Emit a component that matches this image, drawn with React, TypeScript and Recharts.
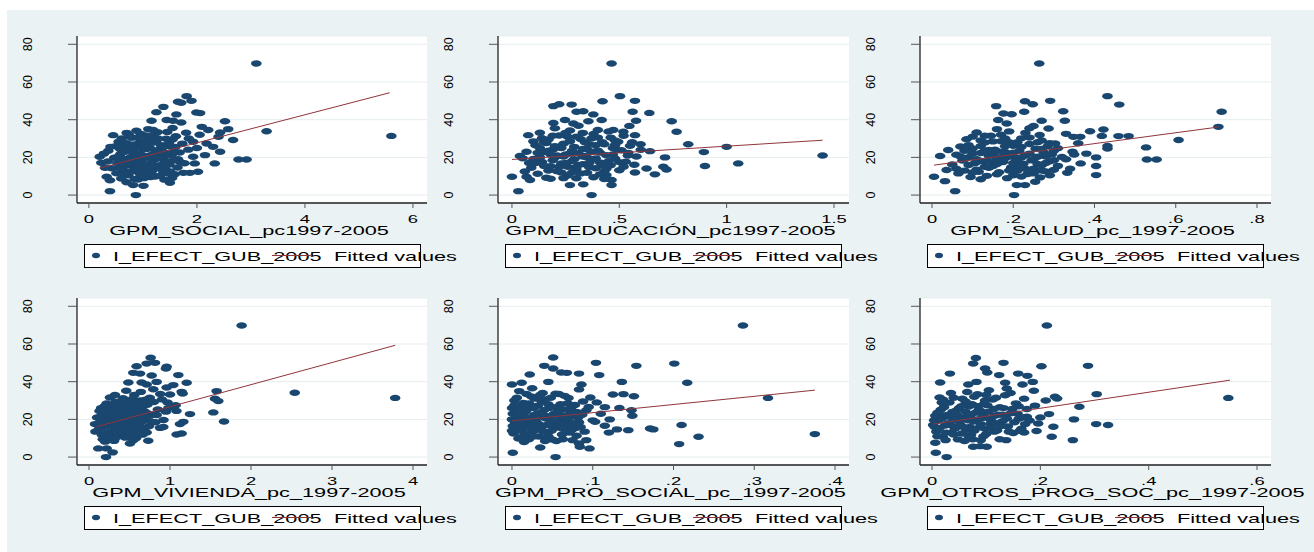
import { CartesianGrid, Scatter, ScatterChart, XAxis, YAxis } from "recharts";

const FONT = "'Liberation Sans', Arial, sans-serif";
const NAVY = "#1a476f";
const MAROON = "#90353b";
const BG = "#eaf2f3";
const SX = 1.67;

type Pt = [number, number];

const Y_TICKS = [0, 20, 40, 60, 80];
const Y_DOMAIN: [number, number] = [-4.2, 84.4];
const SERIES_NAME = "I_EFECT_GUB_2005";
const FIT_NAME = "Fitted values";

const SOCIAL: Pt[] = [
  [3.1, 69.8], [5.6, 31.4], [3.29, 33.9], [1.81, 52.5], [1.9, 50.0], [1.71, 49.0], [1.65, 49.5], [1.99, 43.8], [2.06, 43.5],
  [1.38, 46.8], [1.25, 44.0], [1.62, 42.8], [1.16, 39.4], [1.44, 39.8], [1.56, 39.4], [1.71, 38.5], [2.09, 36.2], [2.21, 34.5],
  [2.52, 39.2], [2.58, 35.0], [2.43, 33.2], [2.4, 30.9], [2.67, 29.2], [2.77, 18.9], [2.92, 18.9], [2.15, 21.2], [2.33, 16.8],
  [1.93, 20.3], [1.96, 16.8], [2.02, 12.4], [1.87, 11.8], [2.43, 23.0], [2.3, 25.6], [2.18, 27.4], [1.93, 28.3], [0.2, 20.3],
  [0.23, 17.1], [0.36, 23.5], [0.33, 9.7], [0.39, 7.9], [0.39, 2.1], [0.87, 0.0], [0.82, 5.3], [1.01, 4.9], [1.5, 6.5],
  [1.59, 11.1], [0.7, 33.0], [0.88, 34.1], [0.57, 24.7],
  [0.42, 14.2], [0.47, 19.8], [0.51, 11.6], [0.53, 16.9], [0.58, 21.7], [0.6, 8.8], [0.63, 13.4], [0.66, 27.1], [0.68, 18.2],
  [0.71, 23.9], [0.73, 10.5], [0.76, 15.7], [0.79, 30.4], [0.81, 20.6], [0.84, 12.8], [0.86, 25.3], [0.89, 17.4], [0.91, 8.3],
  [0.93, 22.1], [0.96, 28.6], [0.98, 14.9], [1.0, 19.1], [1.03, 31.7], [1.04, 11.2], [1.07, 24.4], [1.09, 16.3], [1.11, 20.9],
  [1.14, 9.6], [1.17, 27.8], [1.19, 13.5], [1.21, 18.7], [1.24, 23.2], [1.27, 33.4], [1.29, 15.1], [1.32, 10.2], [1.34, 26.5],
  [1.37, 19.6], [1.41, 13.9], [1.43, 29.9], [1.46, 21.8], [1.49, 16.2], [1.52, 25.7], [1.54, 9.1], [1.57, 18.4], [1.61, 31.2],
  [1.64, 14.6], [1.68, 22.6], [1.73, 27.3], [1.77, 16.9], [1.8, 33.1], [1.84, 24.1], [1.0, 13.0], [0.9, 27.0], [1.2, 31.0],
  [0.75, 25.5], [0.95, 11.0], [1.15, 17.2], [1.35, 23.5], [1.5, 12.6], [0.65, 16.0], [0.55, 28.3], [0.85, 8.5], [1.25, 28.0],
  [1.45, 33.5], [1.65, 19.0], [1.1, 35.0], [0.8, 17.0], [1.3, 21.0], [0.6, 24.0], [1.05, 27.0], [0.45, 31.8], [0.5, 26.0],
  [0.7, 6.8], [1.55, 35.6], [1.4, 8.2], [1.75, 11.8], [1.85, 30.0], [2.0, 25.0], [2.05, 32.0], [0.35, 17.8], [0.3, 14.5],
  [0.28, 22.0], [0.4, 25.6],
  [0.62, 19.5], [0.67, 23.0], [0.72, 16.5], [0.77, 20.0], [0.83, 22.8], [0.87, 19.0], [0.92, 15.5], [0.97, 21.5], [1.01, 24.5],
  [1.06, 20.0], [1.1, 13.8], [1.13, 25.0], [1.18, 21.5], [1.22, 15.8], [1.26, 19.5], [1.31, 24.5], [1.36, 16.5], [1.4, 26.0],
  [1.44, 18.0], [1.48, 27.5], [1.53, 21.0], [1.58, 23.0], [0.7, 27.5], [0.78, 12.5], [0.88, 30.5], [0.94, 18.0], [1.02, 9.0],
  [1.12, 31.5], [1.28, 30.0], [1.38, 12.0], [0.58, 14.5], [0.52, 20.0], [0.66, 11.0], [0.83, 26.8], [0.99, 25.5], [1.08, 29.5],
  [1.16, 11.5], [1.23, 9.8], [1.33, 14.0], [1.42, 22.5], [1.6, 25.5], [1.69, 17.5], [0.74, 32.0], [0.96, 32.5], [1.19, 34.5],
  [0.61, 30.0], [0.86, 14.0], [1.47, 11.5], [1.55, 29.5], [1.04, 15.5],
];

const EDUCACION: Pt[] = [
  [0.464, 69.8], [0.503, 52.5], [0.573, 50.0], [0.422, 49.8], [0.193, 47.2], [0.22, 48.2], [0.278, 48.0], [0.332, 44.5],
  [0.301, 44.2], [0.562, 44.2], [0.64, 43.6], [0.379, 42.8], [0.247, 39.8], [0.193, 38.3], [0.286, 38.0], [0.356, 39.2],
  [0.418, 39.8], [0.578, 39.4], [0.547, 36.7], [0.744, 39.2], [0.767, 33.6], [0.472, 34.5], [0.519, 33.6], [0.573, 31.8],
  [0.821, 27.0], [1.0, 25.6], [0.894, 22.8], [0.899, 15.4], [1.054, 16.8], [1.447, 21.0], [0.713, 20.0], [0.705, 15.0],
  [0.72, 13.6], [0.666, 11.0], [0.627, 14.1], [0.573, 12.0], [0.599, 27.0], [0.643, 23.3], [0.371, 0.0], [0.464, 5.3],
  [0.464, 8.0], [0.332, 5.7], [0.27, 5.3], [0.03, 2.1], [0.0, 9.7], [0.037, 20.7], [0.068, 23.0], [0.076, 31.8], [0.084, 8.0],
  [0.068, 9.7], [0.542, 22.4], [0.495, 28.3],
  [0.09, 14.5], [0.1, 19.2], [0.11, 26.4], [0.12, 11.3], [0.13, 33.1], [0.14, 17.6], [0.15, 22.8], [0.16, 9.2], [0.17, 29.5],
  [0.18, 15.3], [0.19, 24.1], [0.2, 19.9], [0.21, 12.7], [0.22, 31.6], [0.23, 16.8], [0.24, 27.2], [0.25, 21.5], [0.26, 10.4],
  [0.27, 34.3], [0.28, 18.1], [0.29, 25.6], [0.3, 13.9], [0.31, 22.2], [0.32, 29.8], [0.33, 16.4], [0.34, 20.7], [0.35, 11.8],
  [0.36, 26.9], [0.37, 18.8], [0.38, 32.4], [0.39, 14.2], [0.4, 23.6], [0.41, 17.3], [0.42, 28.1], [0.43, 12.5], [0.44, 21.1],
  [0.45, 33.7], [0.46, 15.9], [0.47, 25.0], [0.48, 19.4], [0.5, 13.2], [0.51, 23.8], [0.53, 17.7], [0.55, 26.2], [0.57, 16.1],
  [0.14, 30.2], [0.18, 8.7], [0.21, 25.3], [0.26, 15.0], [0.3, 8.9], [0.33, 33.0], [0.36, 14.8], [0.4, 30.5], [0.44, 10.6],
  [0.2, 35.4], [0.28, 12.0], [0.24, 20.5], [0.35, 24.3], [0.42, 16.0], [0.12, 22.4], [0.16, 27.6], [0.08, 17.0], [0.06, 12.5],
  [0.05, 19.5], [0.1, 28.5], [0.31, 36.8], [0.26, 31.0], [0.38, 9.5], [0.48, 29.0], [0.52, 31.5], [0.58, 20.5], [0.6, 24.0],
  [0.13, 20.0], [0.15, 15.5], [0.17, 23.5], [0.19, 18.5], [0.21, 21.0], [0.23, 25.0], [0.25, 17.0], [0.27, 22.0], [0.29, 19.0],
  [0.31, 16.0], [0.33, 24.5], [0.35, 20.0], [0.37, 23.0], [0.39, 19.5], [0.41, 22.5], [0.43, 27.0], [0.45, 18.0], [0.47, 21.5],
  [0.49, 24.0], [0.15, 28.0], [0.19, 31.5], [0.23, 12.0], [0.27, 28.5], [0.32, 11.5], [0.37, 30.0], [0.41, 11.0], [0.46, 30.5],
  [0.5, 17.5], [0.54, 21.0], [0.17, 13.0], [0.11, 17.0], [0.13, 25.0], [0.22, 15.0], [0.29, 14.5], [0.34, 28.0], [0.39, 26.5],
  [0.44, 14.0], [0.48, 26.5], [0.52, 15.0], [0.56, 28.0], [0.18, 21.5], [0.25, 33.0], [0.3, 31.0], [0.4, 34.5], [0.28, 23.5],
  [0.36, 17.0], [0.33, 20.5], [0.24, 9.0], [0.43, 8.5], [0.2, 26.0],
];

const SALUD: Pt[] = [
  [0.264, 69.8], [0.432, 52.5], [0.461, 48.0], [0.291, 50.0], [0.229, 49.8], [0.248, 48.2], [0.158, 47.2], [0.227, 44.2],
  [0.323, 44.5], [0.176, 43.3], [0.196, 42.9], [0.163, 39.8], [0.184, 38.0], [0.27, 39.4], [0.327, 39.4], [0.25, 36.7],
  [0.287, 35.3], [0.389, 33.9], [0.422, 34.8], [0.418, 31.4], [0.348, 30.9], [0.365, 30.9], [0.459, 31.3], [0.484, 31.3],
  [0.713, 44.2], [0.705, 36.2], [0.607, 29.2], [0.527, 25.3], [0.529, 18.9], [0.553, 18.9], [0.432, 26.1], [0.432, 24.7],
  [0.404, 20.0], [0.404, 15.4], [0.404, 10.6], [0.366, 16.8], [0.333, 11.8], [0.346, 23.0], [0.303, 27.4], [0.202, 0.0],
  [0.057, 2.1], [0.005, 9.7], [0.02, 20.7], [0.036, 13.3], [0.032, 7.4], [0.04, 23.9], [0.209, 5.3], [0.229, 5.3],
  [0.254, 7.1], [0.266, 9.4],
  [0.05, 16.2], [0.06, 21.4], [0.065, 11.5], [0.07, 25.8], [0.075, 18.3], [0.08, 13.0], [0.085, 29.6], [0.09, 20.1],
  [0.095, 9.6], [0.1, 24.7], [0.105, 16.9], [0.11, 33.2], [0.115, 12.4], [0.12, 22.3], [0.125, 18.0], [0.13, 27.9],
  [0.135, 10.2], [0.14, 20.8], [0.145, 31.5], [0.15, 15.4], [0.155, 24.1], [0.16, 19.2], [0.165, 12.1], [0.17, 28.6],
  [0.175, 17.5], [0.18, 22.9], [0.185, 9.0], [0.19, 33.8], [0.195, 14.7], [0.2, 26.2], [0.205, 19.8], [0.21, 12.9],
  [0.215, 23.4], [0.22, 30.1], [0.225, 16.6], [0.23, 21.0], [0.235, 11.2], [0.24, 27.1], [0.245, 18.4], [0.25, 14.0],
  [0.255, 24.6], [0.26, 20.3], [0.265, 31.9], [0.27, 15.8], [0.275, 22.7], [0.28, 12.6], [0.285, 26.0], [0.29, 17.9],
  [0.295, 21.6], [0.3, 13.4], [0.31, 24.9], [0.32, 20.2], [0.12, 8.4], [0.16, 35.0], [0.1, 31.0], [0.14, 14.5], [0.18, 25.9],
  [0.22, 9.8], [0.24, 35.5], [0.08, 19.0], [0.2, 17.0], [0.27, 29.0], [0.13, 23.5], [0.19, 28.0], [0.06, 14.0], [0.11, 17.5],
  [0.29, 10.5], [0.34, 14.0], [0.38, 22.0], [0.36, 27.5], [0.33, 32.5],
  [0.07, 20.5], [0.09, 16.0], [0.1, 22.0], [0.11, 19.0], [0.12, 26.0], [0.13, 15.0], [0.14, 24.0], [0.15, 21.5], [0.16, 16.5],
  [0.17, 23.0], [0.18, 19.5], [0.19, 13.0], [0.2, 22.5], [0.21, 18.5], [0.22, 25.5], [0.23, 14.0], [0.24, 22.0], [0.25, 19.0],
  [0.26, 16.5], [0.27, 24.5], [0.28, 20.5], [0.29, 27.5], [0.3, 18.5], [0.31, 15.5], [0.13, 31.5], [0.15, 28.5], [0.17, 32.0],
  [0.21, 28.0], [0.23, 33.0], [0.09, 26.5], [0.11, 13.5], [0.16, 11.0], [0.2, 10.5], [0.25, 11.5], [0.28, 17.0], [0.19, 20.5],
  [0.14, 18.0], [0.18, 30.0], [0.26, 28.0], [0.08, 23.5], [0.12, 29.0], [0.22, 20.0], [0.24, 30.5], [0.3, 23.5], [0.1, 12.0],
  [0.17, 20.0], [0.21, 15.5], [0.27, 13.0], [0.33, 19.0], [0.35, 21.5],
];

const VIVIENDA: Pt[] = [
  [1.885, 69.8], [2.54, 34.1], [3.78, 31.4], [1.576, 35.0], [1.556, 31.0], [1.597, 29.7], [1.535, 23.7], [1.667, 18.9],
  [1.206, 39.4], [1.103, 43.5], [1.144, 34.6], [1.156, 33.7], [1.247, 22.8], [1.165, 18.7], [1.123, 17.5], [1.082, 12.0],
  [1.144, 12.5], [0.959, 47.9], [0.95, 47.0], [0.761, 52.7], [0.815, 50.0], [0.712, 49.6], [0.588, 48.2], [0.547, 44.7],
  [0.63, 44.3], [0.774, 43.3], [0.486, 39.6], [0.65, 39.6], [0.712, 38.5], [0.835, 39.9], [1.041, 38.2], [0.959, 36.9],
  [0.794, 36.0], [1.0, 33.2], [0.835, 22.3], [0.877, 15.5], [0.918, 16.0], [0.712, 13.0], [0.732, 8.7], [0.506, 7.2],
  [0.547, 9.0], [0.218, 4.6], [0.115, 4.6], [0.21, 0.0], [0.292, 2.5], [0.074, 17.5], [0.136, 21.4], [0.218, 28.4],
  [0.259, 31.6], [0.321, 32.9], [1.05, 27.0], [1.08, 24.5], [0.98, 26.0],
  [0.12, 14.8], [0.14, 18.9], [0.16, 11.7], [0.18, 23.1], [0.2, 16.2], [0.22, 20.4], [0.24, 9.8], [0.26, 26.3], [0.27, 13.6],
  [0.29, 18.1], [0.3, 22.7], [0.32, 11.0], [0.33, 29.4], [0.35, 15.5], [0.36, 20.9], [0.38, 25.0], [0.39, 13.1], [0.41, 17.8],
  [0.42, 31.2], [0.44, 21.6], [0.45, 10.3], [0.47, 24.2], [0.48, 16.5], [0.5, 28.1], [0.51, 19.3], [0.53, 12.4], [0.54, 22.8],
  [0.56, 33.0], [0.57, 17.0], [0.59, 26.7], [0.6, 14.3], [0.62, 21.2], [0.63, 30.0], [0.65, 18.6], [0.66, 11.9], [0.68, 24.5],
  [0.7, 20.0], [0.72, 27.8], [0.74, 16.4], [0.77, 22.4], [0.8, 29.2], [0.85, 25.3], [0.9, 30.6], [0.95, 24.1], [1.02, 26.8],
  [1.07, 27.5], [0.92, 19.7], [0.25, 17.0], [0.31, 8.6], [0.37, 14.6], [0.43, 27.0], [0.46, 35.2], [0.52, 15.0], [0.58, 10.0],
  [0.64, 34.6], [0.69, 13.8], [0.4, 23.0], [0.28, 20.5], [0.34, 26.0], [0.15, 26.0], [0.1, 21.0], [0.08, 13.5], [0.2, 8.2],
  [0.48, 12.0], [0.55, 30.0], [0.61, 24.0], [0.75, 31.5], [0.82, 18.5], [0.88, 33.5], [0.97, 29.0],
  [0.15, 20.0], [0.17, 16.0], [0.19, 19.5], [0.21, 24.0], [0.23, 17.5], [0.25, 22.0], [0.27, 19.0], [0.29, 24.5], [0.31, 16.5],
  [0.33, 21.0], [0.35, 18.5], [0.37, 23.0], [0.39, 19.5], [0.41, 26.0], [0.43, 16.5], [0.45, 22.0], [0.47, 19.5], [0.49, 25.0],
  [0.51, 14.5], [0.53, 27.5], [0.55, 20.5], [0.57, 24.0], [0.59, 18.5], [0.61, 28.5], [0.63, 16.0], [0.67, 21.5], [0.71, 23.5],
  [0.76, 19.0], [0.22, 13.0], [0.26, 11.5], [0.3, 14.0], [0.34, 10.5], [0.38, 29.0], [0.42, 12.5], [0.44, 30.0], [0.46, 14.0],
  [0.5, 11.0], [0.54, 31.0], [0.58, 29.5], [0.62, 12.0], [0.66, 27.0], [0.7, 30.5], [0.36, 27.5], [0.32, 25.5], [0.28, 27.0],
  [0.24, 23.0], [0.19, 27.0], [0.13, 24.5], [0.17, 9.5], [0.52, 23.5],
];

const PRO_SOCIAL: Pt[] = [
  [0.286, 69.8], [0.317, 31.4], [0.375, 12.2], [0.231, 10.8], [0.207, 6.9], [0.21, 17.0], [0.217, 39.4], [0.201, 49.6],
  [0.154, 48.4], [0.171, 15.2], [0.175, 14.7], [0.151, 32.3], [0.149, 21.9], [0.148, 24.9], [0.144, 14.3], [0.136, 39.9],
  [0.138, 33.4], [0.133, 26.1], [0.13, 14.7], [0.125, 33.2], [0.104, 50.0], [0.108, 43.5], [0.121, 20.0], [0.115, 16.6],
  [0.103, 18.7], [0.096, 4.6], [0.084, 5.5], [0.083, 44.3], [0.086, 38.5], [0.083, 35.9], [0.068, 44.7], [0.061, 44.9],
  [0.051, 47.0], [0.051, 52.8], [0.04, 48.4], [0.045, 39.9], [0.022, 43.8], [0.0, 38.5], [0.012, 39.4], [0.001, 2.3],
  [0.054, 0.0], [0.035, 5.1], [0.092, 24.9], [0.097, 31.6], [0.083, 7.2], [0.092, 9.0],
  [0.002, 12.5], [0.004, 18.2], [0.006, 24.6], [0.008, 9.8], [0.01, 21.3], [0.012, 15.1], [0.014, 28.7], [0.016, 19.4],
  [0.018, 11.6], [0.02, 25.5], [0.022, 17.0], [0.024, 32.2], [0.026, 13.7], [0.028, 22.4], [0.03, 19.0], [0.032, 27.3],
  [0.034, 10.9], [0.036, 23.8], [0.038, 16.3], [0.04, 30.6], [0.042, 20.5], [0.044, 13.2], [0.046, 26.1], [0.048, 18.6],
  [0.05, 9.3], [0.052, 23.0], [0.054, 33.6], [0.056, 15.7], [0.058, 21.8], [0.06, 28.0], [0.062, 12.0], [0.064, 19.9],
  [0.066, 25.2], [0.068, 16.8], [0.07, 31.4], [0.072, 22.9], [0.074, 14.4], [0.076, 18.0], [0.078, 27.6], [0.08, 11.3],
  [0.082, 21.0], [0.085, 16.0], [0.088, 29.5], [0.09, 13.5], [0.095, 26.6], [0.1, 19.5], [0.105, 29.0], [0.11, 23.0],
  [0.115, 26.5], [0.12, 13.0], [0.0, 20.0], [0.0, 26.0], [0.0, 14.0], [0.003, 30.0], [0.009, 35.0], [0.015, 8.0],
  [0.025, 36.5], [0.035, 33.0], [0.045, 11.0], [0.055, 8.5], [0.065, 32.5], [0.075, 9.0], [0.03, 14.5], [0.05, 16.5],
  [0.06, 22.5], [0.02, 21.0], [0.04, 25.0], [0.012, 27.0], [0.07, 19.0], [0.08, 24.0],
  [0.001, 16.5], [0.001, 23.0], [0.003, 27.5], [0.005, 20.5], [0.007, 14.5], [0.009, 25.0], [0.011, 18.0], [0.013, 22.0],
  [0.015, 13.0], [0.017, 24.0], [0.019, 16.0], [0.021, 28.5], [0.023, 20.0], [0.025, 15.5], [0.027, 26.0], [0.029, 11.0],
  [0.031, 23.0], [0.033, 17.5], [0.035, 21.5], [0.037, 29.5], [0.039, 13.5], [0.041, 22.0], [0.043, 17.0], [0.045, 28.0],
  [0.047, 21.0], [0.049, 14.0], [0.051, 26.5], [0.053, 19.0], [0.057, 24.5], [0.059, 17.5], [0.061, 25.5], [0.063, 15.0],
  [0.067, 21.0], [0.069, 28.5], [0.071, 13.0], [0.073, 26.0], [0.077, 21.5], [0.079, 15.5], [0.083, 18.5], [0.087, 22.5],
  [0.006, 31.5], [0.018, 33.5], [0.028, 31.0], [0.038, 34.0], [0.048, 31.5], [0.058, 33.5], [0.011, 10.5], [0.021, 9.5],
  [0.041, 8.5], [0.063, 9.5],
];

const OTROS: Pt[] = [
  [0.212, 69.8], [0.547, 31.4], [0.288, 48.4], [0.304, 33.4], [0.303, 17.5], [0.325, 17.0], [0.26, 9.0], [0.262, 20.0],
  [0.272, 26.7], [0.227, 32.0], [0.231, 31.1], [0.221, 10.8], [0.224, 16.1], [0.216, 22.8], [0.202, 48.2], [0.132, 50.0],
  [0.081, 52.6], [0.076, 49.6], [0.098, 47.0], [0.102, 44.9], [0.124, 43.5], [0.159, 44.3], [0.176, 43.1], [0.186, 39.9],
  [0.167, 38.5], [0.188, 35.2], [0.135, 39.4], [0.138, 36.4], [0.082, 39.9], [0.067, 38.5], [0.033, 44.3], [0.015, 39.6],
  [0.014, 31.6], [0.006, 21.9], [0.002, 17.0], [0.006, 7.6], [0.007, 2.3], [0.027, 0.0], [0.076, 5.5], [0.089, 5.8],
  [0.101, 5.5], [0.137, 9.0], [0.193, 13.8], [0.196, 17.8], [0.175, 21.4],
  [0.008, 13.5], [0.012, 19.4], [0.016, 25.1], [0.02, 10.8], [0.024, 16.7], [0.028, 22.3], [0.032, 28.9], [0.036, 13.0],
  [0.04, 19.8], [0.044, 24.6], [0.048, 9.4], [0.052, 17.2], [0.056, 31.0], [0.06, 21.1], [0.064, 14.5], [0.068, 26.8],
  [0.072, 11.7], [0.076, 18.9], [0.08, 23.5], [0.084, 33.3], [0.088, 15.8], [0.092, 20.6], [0.096, 28.2], [0.1, 12.3],
  [0.104, 24.0], [0.108, 17.6], [0.112, 30.5], [0.116, 21.9], [0.12, 14.1], [0.125, 26.4], [0.13, 19.0], [0.135, 32.8],
  [0.14, 16.2], [0.145, 23.2], [0.15, 12.8], [0.155, 28.5], [0.16, 20.3], [0.165, 15.0], [0.17, 31.0], [0.175, 25.5],
  [0.18, 19.4], [0.19, 27.3], [0.2, 21.0], [0.21, 30.0], [0.005, 16.0], [0.015, 22.5], [0.025, 9.0], [0.035, 34.0],
  [0.045, 20.8], [0.055, 12.5], [0.065, 34.5], [0.075, 9.5], [0.085, 27.0], [0.095, 11.0], [0.105, 35.5], [0.115, 13.5],
  [0.125, 9.5], [0.145, 34.0], [0.16, 27.0], [0.17, 13.0], [0.03, 18.0], [0.05, 26.0], [0.07, 16.0], [0.09, 24.5],
  [0.11, 19.0], [0.13, 22.5], [0.02, 30.5], [0.06, 8.5], [0.1, 33.0],
  [0.004, 19.5], [0.01, 23.5], [0.014, 15.5], [0.018, 20.5], [0.022, 26.5], [0.026, 13.0], [0.03, 21.5], [0.034, 17.0],
  [0.038, 24.0], [0.042, 15.0], [0.046, 22.5], [0.05, 19.0], [0.054, 27.0], [0.058, 16.0], [0.062, 24.0], [0.066, 19.5],
  [0.07, 22.0], [0.074, 28.0], [0.078, 14.0], [0.082, 20.0], [0.086, 25.0], [0.09, 17.5], [0.094, 22.0], [0.098, 15.0],
  [0.102, 27.5], [0.106, 20.5], [0.11, 15.5], [0.114, 25.5], [0.118, 18.0], [0.122, 22.5], [0.128, 16.5], [0.132, 26.0],
  [0.138, 20.5], [0.142, 13.5], [0.148, 25.5], [0.152, 18.5], [0.158, 23.0], [0.162, 14.0], [0.168, 21.0], [0.172, 17.5],
  [0.018, 29.0], [0.04, 31.5], [0.062, 29.5], [0.078, 32.0], [0.098, 30.0], [0.118, 31.5], [0.01, 11.0], [0.04, 12.0],
  [0.068, 11.0], [0.09, 9.0],
];

// fitted line end points
const FIT_SOCIAL: Pt[] = [[0.2, 14.3], [5.57, 54.3]];
const FIT_EDUCACION: Pt[] = [[0.0, 18.9], [1.447, 29.1]];
const FIT_SALUD: Pt[] = [[0.005, 15.9], [0.705, 36.1]];
const FIT_VIVIENDA: Pt[] = [[0.095, 16.1], [3.78, 59.3]];
const FIT_PRO_SOCIAL: Pt[] = [[0.0, 19.2], [0.375, 35.5]];
const FIT_OTROS: Pt[] = [[0.0025, 17.5], [0.55, 40.8]];

const PANELS = [
  { title: "GPM_SOCIAL_pc1997-2005", pts: SOCIAL, fit: FIT_SOCIAL, ticks: [0, 2, 4, 6], domain: [-0.22, 6.26], col: 0, row: 0 },
  { title: "GPM_EDUCACIÓN_pc1997-2005", pts: EDUCACION, fit: FIT_EDUCACION, ticks: [0, 0.5, 1, 1.5], domain: [-0.065, 1.57], col: 1, row: 0 },
  { title: "GPM_SALUD_pc_1997-2005", pts: SALUD, fit: FIT_SALUD, ticks: [0, 0.2, 0.4, 0.6, 0.8], domain: [-0.0295, 0.8345], col: 2, row: 0 },
  { title: "GPM_VIVIENDA_pc_1997-2005", pts: VIVIENDA, fit: FIT_VIVIENDA, ticks: [0, 1, 2, 3, 4], domain: [-0.148, 4.173], col: 0, row: 1 },
  { title: "GPM_PRO_SOCIAL_pc_1997-2005", pts: PRO_SOCIAL, fit: FIT_PRO_SOCIAL, ticks: [0, 0.1, 0.2, 0.3, 0.4], domain: [-0.0173, 0.4173], col: 1, row: 1 },
  { title: "GPM_OTROS_PROG_SOC_pc_1997-2005", pts: OTROS, fit: FIT_OTROS, ticks: [0, 0.2, 0.4, 0.6], domain: [-0.0222, 0.6258], col: 2, row: 1 },
];

// charts overlap a little so that the legend labels are not cut at a panel edge
const COLS = [
  { left: 7, width: 465, yw: 70, right: 45 },
  { left: 440, width: 451, yw: 58, right: 42 },
  { left: 862, width: 452, yw: 58, right: 43 },
];
const ROW_TOPS = [10, 272];
const CHART_H = 262;

const fmt = (v: number) => String(v).replace(/^0\./, ".");

function XTick(props: any) {
  const { x, y, payload } = props;
  return (
    <g transform={`translate(${x},${y + 12.5}) scale(${SX},1)`}>
      <text x={0} y={0} textAnchor="middle" fontSize={11} fontFamily={FONT} fill="#000">
        {fmt(payload.value)}
      </text>
    </g>
  );
}

function YTick(props: any) {
  const { x, y, payload } = props;
  const cx = x - 40;
  return (
    <text
      x={cx}
      y={y}
      transform={`rotate(-90 ${cx} ${y})`}
      textAnchor="middle"
      dominantBaseline="central"
      fontSize={12.5}
      fontFamily={FONT}
      fill="#000"
    >
      {payload.value}
    </text>
  );
}

function Dot(props: any) {
  return <ellipse cx={props.cx} cy={props.cy} rx={5.3} ry={3.2} fill={NAVY} />;
}

function Legend({ left }: { left: number }) {
  const top = 234;
  const cy = top + 11.5;
  return (
    <g>
      <rect x={left + 0.5} y={top + 0.5} width={336} height={23} fill="#fff" stroke="#000" strokeWidth={1} />
      <ellipse cx={left + 12} cy={cy} rx={4} ry={2.7} fill={NAVY} />
      <g transform={`translate(${left + 29},${top + 16.5}) scale(${SX},1)`}>
        <text x={0} y={0} fontSize={13} fontFamily={FONT} fill="#000">{SERIES_NAME}</text>
      </g>
      <line x1={left + 188} x2={left + 228} y1={cy} y2={cy} stroke={MAROON} strokeWidth={1} />
      <g transform={`translate(${left + 250},${top + 16.5}) scale(${SX},1)`}>
        <text x={0} y={0} fontSize={13} fontFamily={FONT} fill="#000">{FIT_NAME}</text>
      </g>
    </g>
  );
}

function Panel({ p }: { p: (typeof PANELS)[number] }) {
  const c = COLS[p.col];
  const pts = p.pts.map(([x, y]) => ({ x, y }));
  const fit = p.fit.map(([x, y]) => ({ x, y }));
  return (
    <div style={{ position: "absolute", left: c.left, top: ROW_TOPS[p.row], width: c.width, height: CHART_H }}>
      <ScatterChart width={c.width} height={CHART_H} margin={{ top: 26, right: c.right, bottom: 39, left: 0 }}>
        <CartesianGrid vertical={false} fill="#fff" stroke="#e4edef" strokeWidth={1} />
        <XAxis
          type="number"
          dataKey="x"
          domain={p.domain as [number, number]}
          ticks={p.ticks}
          allowDataOverflow
          height={30}
          tickSize={5}
          tickMargin={2}
          tick={<XTick />}
          axisLine={{ stroke: "#222", strokeWidth: 1.3 }}
          tickLine={{ stroke: "#555" }}
          label={{
            content: (lp: any) => {
              const vb = lp.viewBox || { x: 0, y: 0, width: 0 };
              return (
                <g transform={`translate(${vb.x + vb.width / 2 - 3},${vb.y + 31.5}) scale(${SX},1)`}>
                  <text x={0} y={0} textAnchor="middle" fontSize={13} fontFamily={FONT} fill="#000">{p.title}</text>
                </g>
              );
            },
          }}
        />
        <YAxis
          type="number"
          dataKey="y"
          domain={Y_DOMAIN}
          ticks={Y_TICKS}
          allowDataOverflow
          width={c.yw}
          tickSize={9}
          tickMargin={0}
          tick={<YTick />}
          axisLine={{ stroke: "#222", strokeWidth: 1.3 }}
          tickLine={{ stroke: "#555" }}
        />
        <Scatter data={pts} fill={NAVY} shape={<Dot />} isAnimationActive={false} />
        <Scatter
          data={fit}
          line={{ stroke: MAROON, strokeWidth: 1 }}
          shape={() => <g />}
          isAnimationActive={false}
        />
        <Legend left={c.yw + 7} />
      </ScatterChart>
    </div>
  );
}

export default function App() {
  return (
    <div style={{ position: "absolute", left: 0, top: 0, width: 1314, height: 552, background: "#fff", overflow: "hidden" }}>
      <div style={{ position: "absolute", left: 7, top: 10, width: 1307, height: 542, background: BG }} />
      {PANELS.map((p) => (
        <Panel key={p.title} p={p} />
      ))}
    </div>
  );
}
